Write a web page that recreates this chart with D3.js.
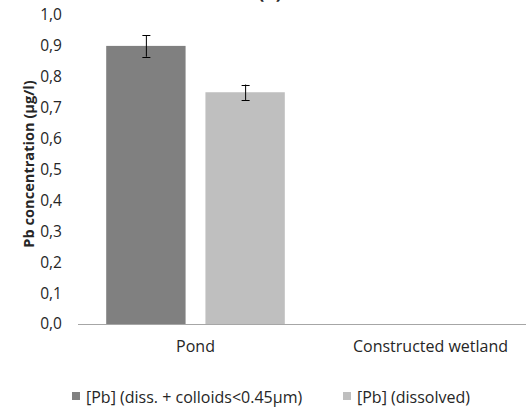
<!DOCTYPE html>
<html><head><meta charset="utf-8">
<script src="https://cdn.jsdelivr.net/npm/d3@7"></script>
<style>body{margin:0;background:#fff}svg{display:block}text{font-family:"Open Sans",sans-serif;fill:#262626}</style>
</head><body>
<script>
const categories = ["Pond", "Constructed wetland"];
const seriesNames = ["[Pb] (diss. + colloids<0.45μm)", "[Pb] (dissolved)"];
const seriesColors = ["#808080", "#bfbfbf"];
const seriesTotal = [0.90, null];
const seriesDissolved = [0.75, null];
const errTotal = [0.035, null];
const errDissolved = [0.025, null];
const yTicks = [0, 0.1, 0.2, 0.3, 0.4, 0.5, 0.6, 0.7, 0.8, 0.9, 1.0];

const W = 526, H = 407;
const svg = d3.select("body").append("svg").attr("width", W).attr("height", H);

const x0 = 78, plotRight = 548, yTop = 15, yBot = 324;
const y = d3.scaleLinear().domain([0, 1]).range([yBot, yTop]);
const xc = d3.scaleBand().domain(categories).range([x0, plotRight]).paddingInner(0.24).paddingOuter(0.12);
const xs = d3.scaleBand().domain([0, 1]).range([0, xc.bandwidth()]).paddingInner(0.2);

// title (cut off at top, as in the reference)
svg.append("text").attr("x", 270).attr("y", -1.5).attr("text-anchor", "middle")
  .style("font-weight", "bold").style("font-size", "18px").text("(b)");

// y tick labels
const yAxis = d3.axisLeft(y).tickValues(yTicks).tickSize(0).tickPadding(0)
  .tickFormat(d => d3.format(".1f")(d).replace(".", ","));
const gy = svg.append("g").attr("transform", `translate(62,0)`).call(yAxis);
gy.select(".domain").remove();
gy.selectAll("text").style("font-size", "15.5px").attr("fill", "#262626").attr("font-family", "Open Sans");

// bars
const data = [seriesTotal, seriesDissolved];
const errs = [errTotal, errDissolved];
data.forEach((vals, s) => {
  categories.forEach((c, i) => {
    const v = vals[i];
    if (v == null) return;
    const bx = xc(c) + xs(s);
    svg.append("rect").attr("x", bx).attr("y", y(v)).attr("width", xs.bandwidth())
      .attr("height", y(0) - y(v)).attr("fill", seriesColors[s]);
    const e = errs[s][i];
    const cx = bx + xs.bandwidth() / 2;
    const g = svg.append("g").attr("stroke", "#000").attr("stroke-width", 1);
    g.append("line").attr("x1", cx + 0.5).attr("x2", cx + 0.5).attr("y1", y(v + e)).attr("y2", y(v - e));
    g.append("line").attr("x1", cx - 3.5).attr("x2", cx + 4.5).attr("y1", Math.round(y(v + e)) + 0.5).attr("y2", Math.round(y(v + e)) + 0.5);
    g.append("line").attr("x1", cx - 3.5).attr("x2", cx + 4.5).attr("y1", Math.round(y(v - e)) + 0.5).attr("y2", Math.round(y(v - e)) + 0.5);
  });
});

// x axis line
svg.append("line").attr("x1", x0).attr("x2", W).attr("y1", yBot + 0.5).attr("y2", yBot + 0.5)
  .attr("stroke", "#a6a6a6").attr("stroke-width", 1.2);

// x category labels
const xAxis = d3.axisBottom(xc).tickSize(0).tickPadding(0);
const gx = svg.append("g").attr("transform", `translate(0,341)`).call(xAxis);
gx.select(".domain").remove();
gx.selectAll("text").style("font-size", "16px").attr("fill", "#262626").attr("font-family", "Open Sans");

// y axis title
svg.append("text").attr("transform", "translate(34,164) rotate(-90)").attr("text-anchor", "middle")
  .style("font-weight", "bold").style("font-size", "14.6px").text("Pb concentration (µg/l)");

// legend
const legX = [72, 343];
seriesNames.forEach((n, i) => {
  svg.append("rect").attr("x", legX[i]).attr("y", 392).attr("width", 8).attr("height", 8).attr("fill", seriesColors[i]);
  svg.append("text").attr("x", legX[i] + 14).attr("y", 402.5).style("font-size", "16px").text(n);
});
</script>
</body></html>
